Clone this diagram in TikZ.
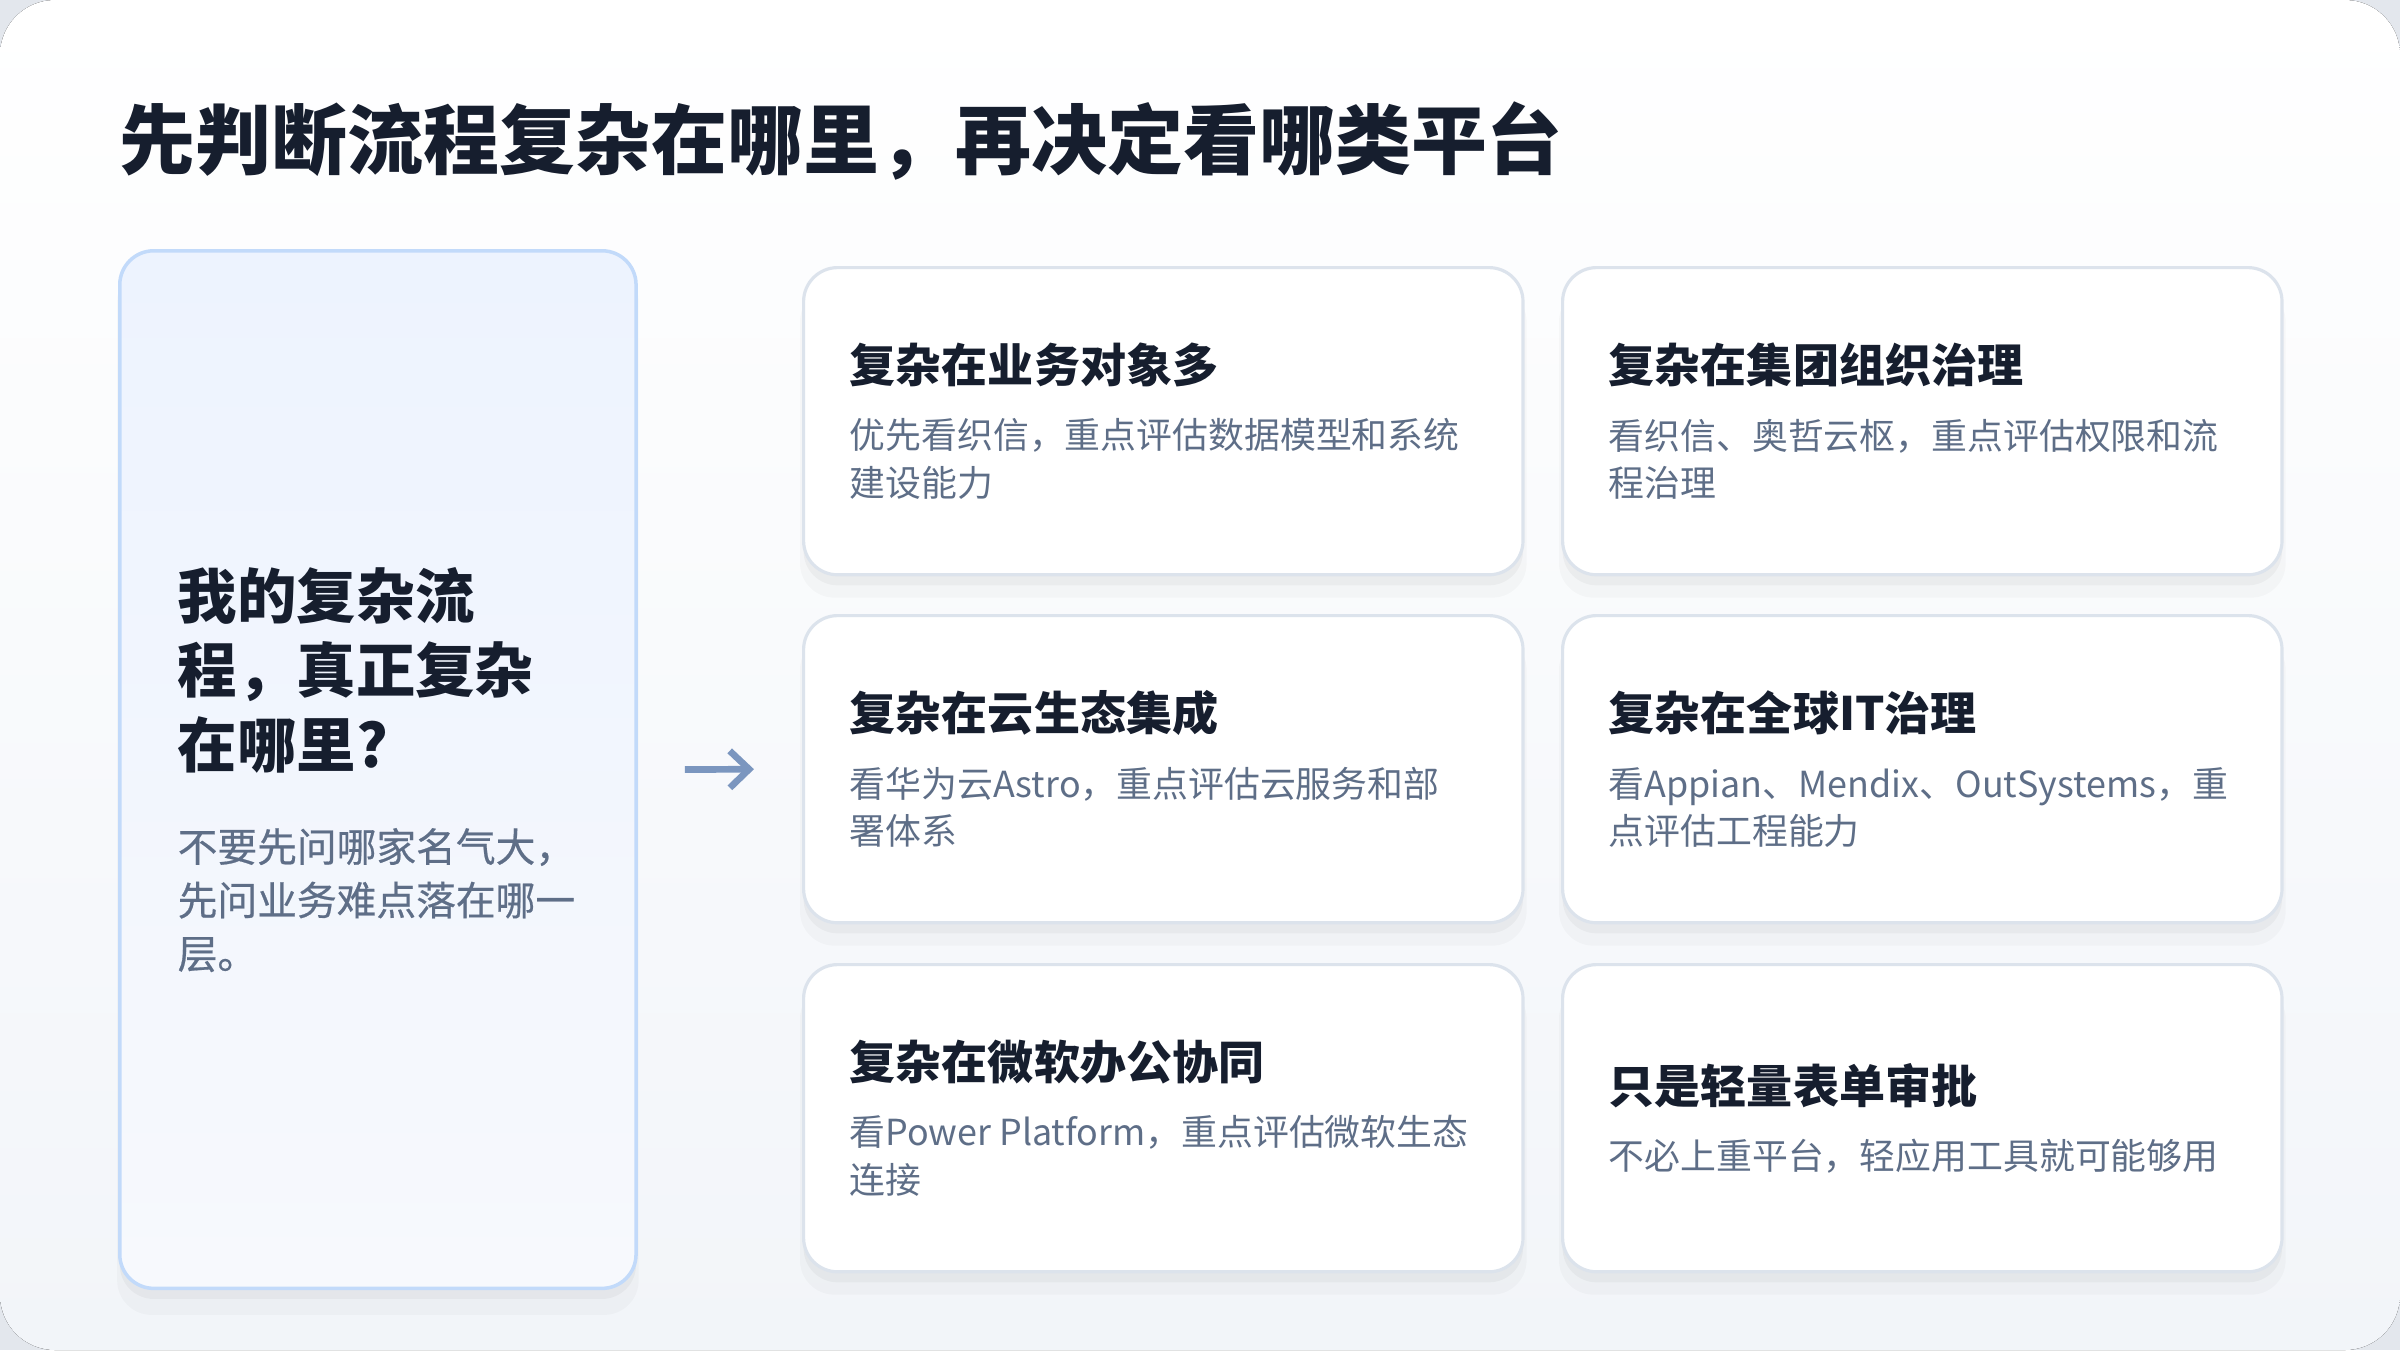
\documentclass[tikz,border=0pt]{standalone}
\usepackage{fontspec}
\setmainfont{Noto Sans CJK SC}
\newfontfamily\mediumfont{Noto Sans CJK SC}[FakeBold=0.5]
\usetikzlibrary{positioning}
\usetikzlibrary{arrows.meta}
\usetikzlibrary{shadows}
\usepackage{xcolor}
\definecolor{ink}{HTML}{161E2E}
\definecolor{subgray}{HTML}{5E6E87}
\definecolor{cardline}{HTML}{DCE3EC}
\definecolor{panelline}{HTML}{C2DAFA}
\definecolor{paneltop}{HTML}{EDF3FE}
\definecolor{panelbot}{HTML}{F7F9FD}
\definecolor{arrowblue}{HTML}{7B96BF}
\definecolor{outerbg}{HTML}{E3E7ED}
\definecolor{pagebot}{HTML}{F2F5F9}
\newcommand\headline{\fontsize{13.1}{13.5}\selectfont\bfseries\color{ink}}

\begin{document}
\begin{tikzpicture}[x=0.01cm, y=-0.01cm,
    softshadow/.style={general shadow={shadow yshift=-6pt, shadow scale=1.01, fill=black, opacity=0.025},
        general shadow={shadow yshift=-3pt, fill=black, opacity=0.035}},
    card/.style={draw=cardline, line width=0.9pt, fill=white, rounded corners=0.34cm,
        minimum width=7.19cm, minimum height=3.07cm, inner sep=0pt, softshadow},
    cardtxt/.style={align=left, inner sep=0pt, text=subgray, font=\fontsize{10.2}{13.5}\selectfont},
    panel/.style={draw=panelline, line width=1pt, top color=paneltop, bottom color=panelbot,
        rounded corners=0.34cm, minimum width=5.16cm, minimum height=10.37cm, inner sep=0pt, softshadow},
    flowarrow/.style={arrowblue, line width=1.9pt, -{Straight Barb[length=5.5pt, width=10.5pt]}}]
\useasboundingbox (0,0) rectangle (2400,1350);
\fill[outerbg] (0,0) rectangle (2400,1350);
\fill[rounded corners=0.55cm, top color=white, bottom color=pagebot] (0,0) rectangle (2400,1350);

% title
\node[anchor=west, inner sep=0pt, text=ink, font=\fontsize{21.6}{24}\selectfont\bfseries] (title) at (119,141) {先判断流程复杂在哪里，再决定看哪类平台};

% left question panel
\node[panel, anchor=north west] (panel) at (118,249) {};
\node[right=0.59cm of panel.west, anchor=west, inner sep=0pt, text width=4.4cm, align=left] (question) {%
{\fontsize{16.9}{21.3}\selectfont\bfseries\color{ink}我的复杂流\\程，真正复杂\\在哪里?\par}\vskip 11.5pt
{\fontsize{11.3}{15.2}\mediumfont\color{subgray}不要先问哪家名气大，\\先问业务难点落在哪一\\层。\par}};

% six cards
\node[card, anchor=north west] (c11) at (802,266) {};
\node[card, anchor=north west] (c12) at (1561,266) {};
\node[card, anchor=north west] (c21) at (802,614) {};
\node[card, anchor=north west] (c22) at (1561,614) {};
\node[card, anchor=north west] (c31) at (802,963) {};
\node[card, anchor=north west] (c32) at (1561,963) {};

\node[cardtxt, right=0.47cm of c11.west] (t11) {{\headline 复杂在业务对象多}\\[5.4pt]优先看织信，重点评估数据模型和系统\\建设能力};
\node[cardtxt, right=0.47cm of c12.west] (t12) {{\headline 复杂在集团组织治理}\\[5.4pt]看织信、奥哲云枢，重点评估权限和流\\程治理};
\node[cardtxt, right=0.47cm of c21.west] (t21) {{\headline 复杂在云生态集成}\\[5.4pt]看华为云Astro，重点评估云服务和部\\署体系};
\node[cardtxt, right=0.47cm of c22.west] (t22) {{\headline 复杂在全球IT治理}\\[5.4pt]看Appian、Mendix、OutSystems，重\\点评估工程能力};
\node[cardtxt, right=0.47cm of c31.west] (t31) {{\headline 复杂在微软办公协同}\\[5.4pt]看Power Platform，重点评估微软生态\\连接};
\node[cardtxt, right=0.47cm of c32.west] (t32) {{\headline 只是轻量表单审批}\\[5.4pt]不必上重平台，轻应用工具就可能够用};

% arrow from question to cards
\draw[flowarrow] ([xshift=0.47cm]panel.east) -- ([xshift=-0.48cm]c21.west);
\end{tikzpicture}
\end{document}
